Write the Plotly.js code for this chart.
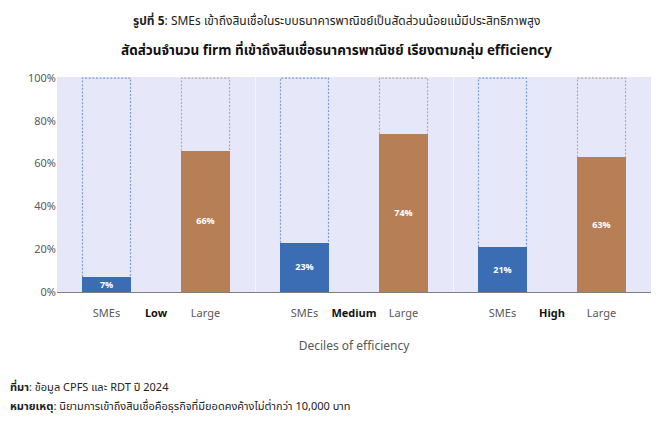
<!DOCTYPE html>
<html>
<head>
<meta charset="utf-8">
<script src="https://cdn.plot.ly/plotly-3.0.1.min.js"></script>
<style>
  html, body { margin: 0; padding: 0; background: #ffffff; }
  #graph { width: 668px; height: 424px; }
</style>
</head>
<body>
<div id="graph"></div>
<script>
// groups of efficiency deciles
const groups = ['Low', 'Medium', 'High'];
const firmTypes = ['SMEs', 'Large'];

// share of firms with commercial bank credit (%)
const smeShare = [7, 23, 21];
const largeShare = [66, 74, 63];

const yTicks = [0, 20, 40, 60, 80, 100];
const yTickText = ['0%', '20%', '40%', '60%', '80%', '100%'];

// x layout: each group occupies 4 units, SMEs at +1, label at +2, Large at +3
const smeX = groups.map((g, i) => 4 * i + 1);
const labelX = groups.map((g, i) => 4 * i + 2);
const largeX = groups.map((g, i) => 4 * i + 3);
const dividerX = [4, 8];

const barWidth = 0.97;
const blue = '#3B6DB5';
const brown = '#B67F55';
const fontFam = '"Noto Sans Thai", "Noto Sans", "DejaVu Sans", sans-serif';

function outline(xs, vals, color) {
    let x = [], y = [];
    xs.forEach((cx, i) => {
        const l = cx - barWidth / 2, r = cx + barWidth / 2;
        x.push(l, l, r, r, null);
        y.push(vals[i], 100, 100, vals[i], null);
    });
    return {
        type: 'scatter', mode: 'lines', x: x, y: y,
        line: { color: color, width: 1.2, dash: '2px,1.6px' },
        hoverinfo: 'skip', showlegend: false
    };
}

function bars(xs, vals, color) {
    return {
        type: 'bar', x: xs, y: vals, width: barWidth,
        marker: { color: color },
        text: vals.map(v => '<b>' + v + '%</b>'),
        textposition: 'inside', insidetextanchor: 'middle',
        textangle: 0, constraintext: 'none',
        textfont: { color: '#ffffff', size: 9, family: fontFam },
        showlegend: false, hoverinfo: 'skip'
    };
}

// tick labels built from categories
let tickVals = [], tickText = [];
groups.forEach((g, i) => {
    tickVals.push(smeX[i], labelX[i], largeX[i]);
    tickText.push(firmTypes[0], '<b><span style="color:#111">' + g + '</span></b>', firmTypes[1]);
});

const data = [
    outline(smeX, smeShare, '#7E9CD2'),
    outline(largeX, largeShare, '#BFA6A2'),
    bars(smeX, smeShare, blue),
    bars(largeX, largeShare, brown),
    // invisible trace on xaxis2 for the group dividers
    { type: 'scatter', x: dividerX, y: [0, 0], xaxis: 'x2', mode: 'markers',
      marker: { opacity: 0 }, hoverinfo: 'skip', showlegend: false }
];

const layout = {
    width: 668, height: 424,
    margin: { l: 57, r: 17, t: 77, b: 132 },
    paper_bgcolor: '#ffffff',
    plot_bgcolor: '#E6E8FA',
    font: { family: fontFam, color: '#595959', size: 11 },
    bargap: 0,
    xaxis: {
        range: [0, 12], fixedrange: true,
        tickvals: tickVals, ticktext: tickText,
        showgrid: false, zeroline: false,
        showline: true, linecolor: '#7F7F7F', linewidth: 1.2,
        ticks: 'outside', ticklen: 11, tickcolor: 'rgba(0,0,0,0)',
        tickfont: { size: 11, color: '#595959' },
        title: { text: 'Deciles of efficiency', font: { size: 12, color: '#595959' }, standoff: 20 }
    },
    xaxis2: {
        range: [0, 12], overlaying: 'x', fixedrange: true,
        tickvals: dividerX, showticklabels: false,
        showgrid: true, gridcolor: '#F4F5FD', gridwidth: 1,
        zeroline: false, showline: false, ticks: ''
    },
    yaxis: {
        range: [0, 100.5], fixedrange: true,
        tickvals: yTicks, ticktext: yTickText,
        showgrid: false, zeroline: false, showline: false,
        ticks: '', tickfont: { size: 11, color: '#595959' }
    },
    annotations: [
        { text: '<b>รูปที่ 5</b>: SMEs เข้าถึงสินเชื่อในระบบธนาคารพาณิชย์เป็นสัดส่วนน้อยแม้มีประสิทธิภาพสูง',
          xref: 'paper', yref: 'paper', x: 0.47, y: 1, yshift: 67,
          showarrow: false, font: { size: 12, color: '#222222' } },
        { text: '<b>สัดส่วนจำนวน firm ที่เข้าถึงสินเชื่อธนาคารพาณิชย์ เรียงตามกลุ่ม efficiency</b>',
          xref: 'paper', yref: 'paper', x: 0.47, y: 1, yshift: 38,
          showarrow: false, font: { size: 13.5, color: '#111111' } },
        { text: '<b>ที่มา</b>: ข้อมูล CPFS และ RDT ปี 2024',
          xref: 'paper', yref: 'paper', x: 0, xshift: -49, y: 0, yshift: -106,
          xanchor: 'left', showarrow: false, font: { size: 11, color: '#222222' } },
        { text: '<b>หมายเหตุ</b>: นิยามการเข้าถึงสินเชื่อคือธุรกิจที่มียอดคงค้างไม่ต่ำกว่า 10,000 บาท',
          xref: 'paper', yref: 'paper', x: 0, xshift: -49, y: 0, yshift: -125,
          xanchor: 'left', showarrow: false, font: { size: 11, color: '#222222' } }
    ]
};

Plotly.newPlot('graph', data, layout, { displayModeBar: false, staticPlot: true });
</script>
</body>
</html>
